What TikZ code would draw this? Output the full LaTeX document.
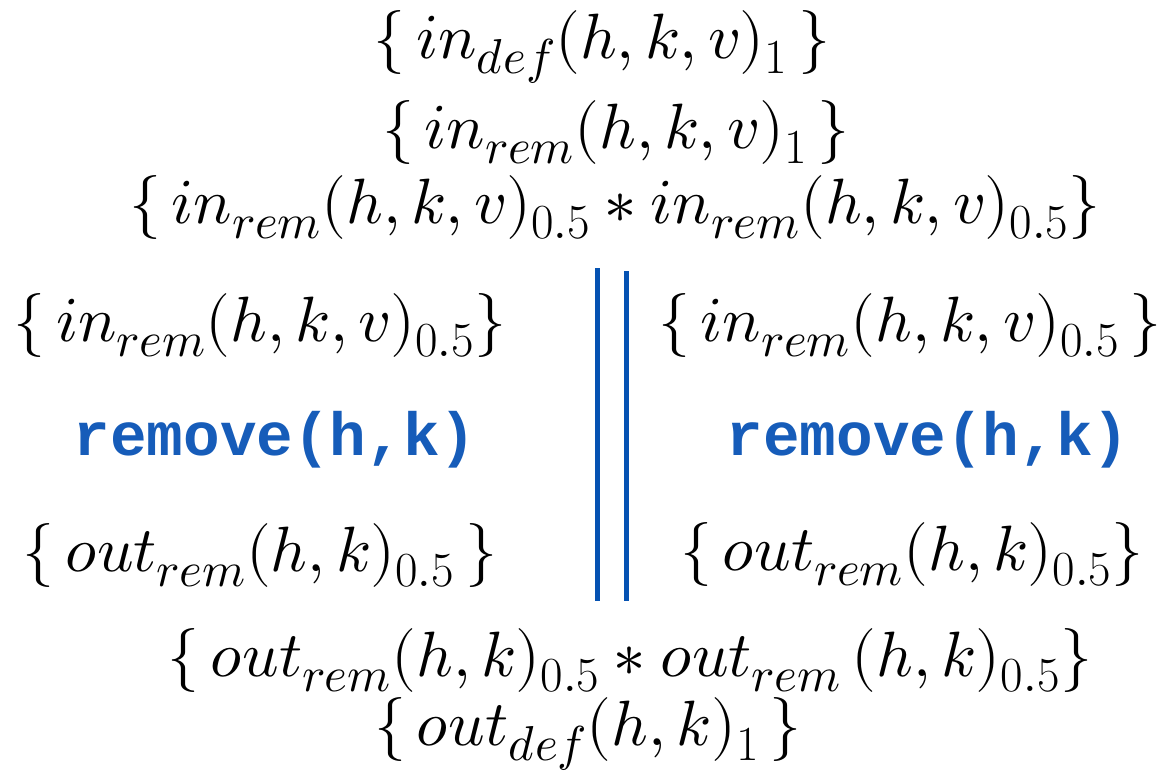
\documentclass[tikz,border=0pt]{standalone}
\usepackage{fontspec}
\usepackage{unicode-math}
\setmathfont{Latin Modern Math}
\newfontfamily\codefont{Liberation Mono}
\newcommand\sbx[1]{_{\hbox{\fontsize{49}{54}\selectfont$#1$}}}
\definecolor{codeblue}{RGB}{22,92,185}
\definecolor{lineblue}{RGB}{5,82,178}
\tikzset{
  formula/.style={anchor=base, inner sep=0pt, font=\fontsize{64}{70}\selectfont},
  code/.style={anchor=base, inner sep=0pt, font=\fontsize{61}{66}\selectfont\codefont\bfseries, text=codeblue},
  bar/.style={draw=lineblue, line width=5pt}
}
\begin{document}
\begin{tikzpicture}[x=1pt,y=-1pt]
\useasboundingbox (0,0) rectangle (1171,774);
\node[formula] (l1) at (602,58) {$\{\, in\sbx{def}(h,k,v)\sbx{\mathrm{1}}\,\}$};
\node[formula] (l2) at (616,148) {$\{\, in\sbx{rem}(h,k,v)\sbx{\mathrm{1}}\,\}$};
\node[formula] (l3) at (615,223) {$\{\, in\sbx{rem}(h,k,v)\sbx{\mathrm{0.5}} * in\sbx{rem}(h,k,v)\sbx{\mathrm{0.5}}\}$};
\node[formula] (la) at (260,341) {$\{\, in\sbx{rem}(h,k,v)\sbx{\mathrm{0.5}}\}$};
\node[code] (lr) at (275,455) {remove(h,k)};
\node[formula] (lo) at (260,571) {$\{\, out\sbx{rem}(h,k)\sbx{\mathrm{0.5}}\,\}$};
\node[formula] (ra) at (910,341) {$\{\, in\sbx{rem}(h,k,v)\sbx{\mathrm{0.5}}\,\}$};
\node[code] (rr) at (928,455) {remove(h,k)};
\node[formula] (ro) at (912,570) {$\{\, out\sbx{rem}(h,k)\sbx{\mathrm{0.5}}\}$};
\node[formula] (b1) at (630,676) {$\{\, out\sbx{rem}(h,k)\sbx{\mathrm{0.5}} * out\sbx{rem}\,(h,k)\sbx{\mathrm{0.5}}\}$};
\node[formula] (b2) at (588,745) {$\{\, out\sbx{def}(h,k)\sbx{\mathrm{1}}\,\}$};
\coordinate (p1) at (597,268);
\coordinate (p2) at (597,601);
\coordinate (q1) at (626,271);
\coordinate (q2) at (626,601);
\draw[bar] (p1) -- (p2);
\draw[bar] (q1) -- (q2);
\end{tikzpicture}
\end{document}
